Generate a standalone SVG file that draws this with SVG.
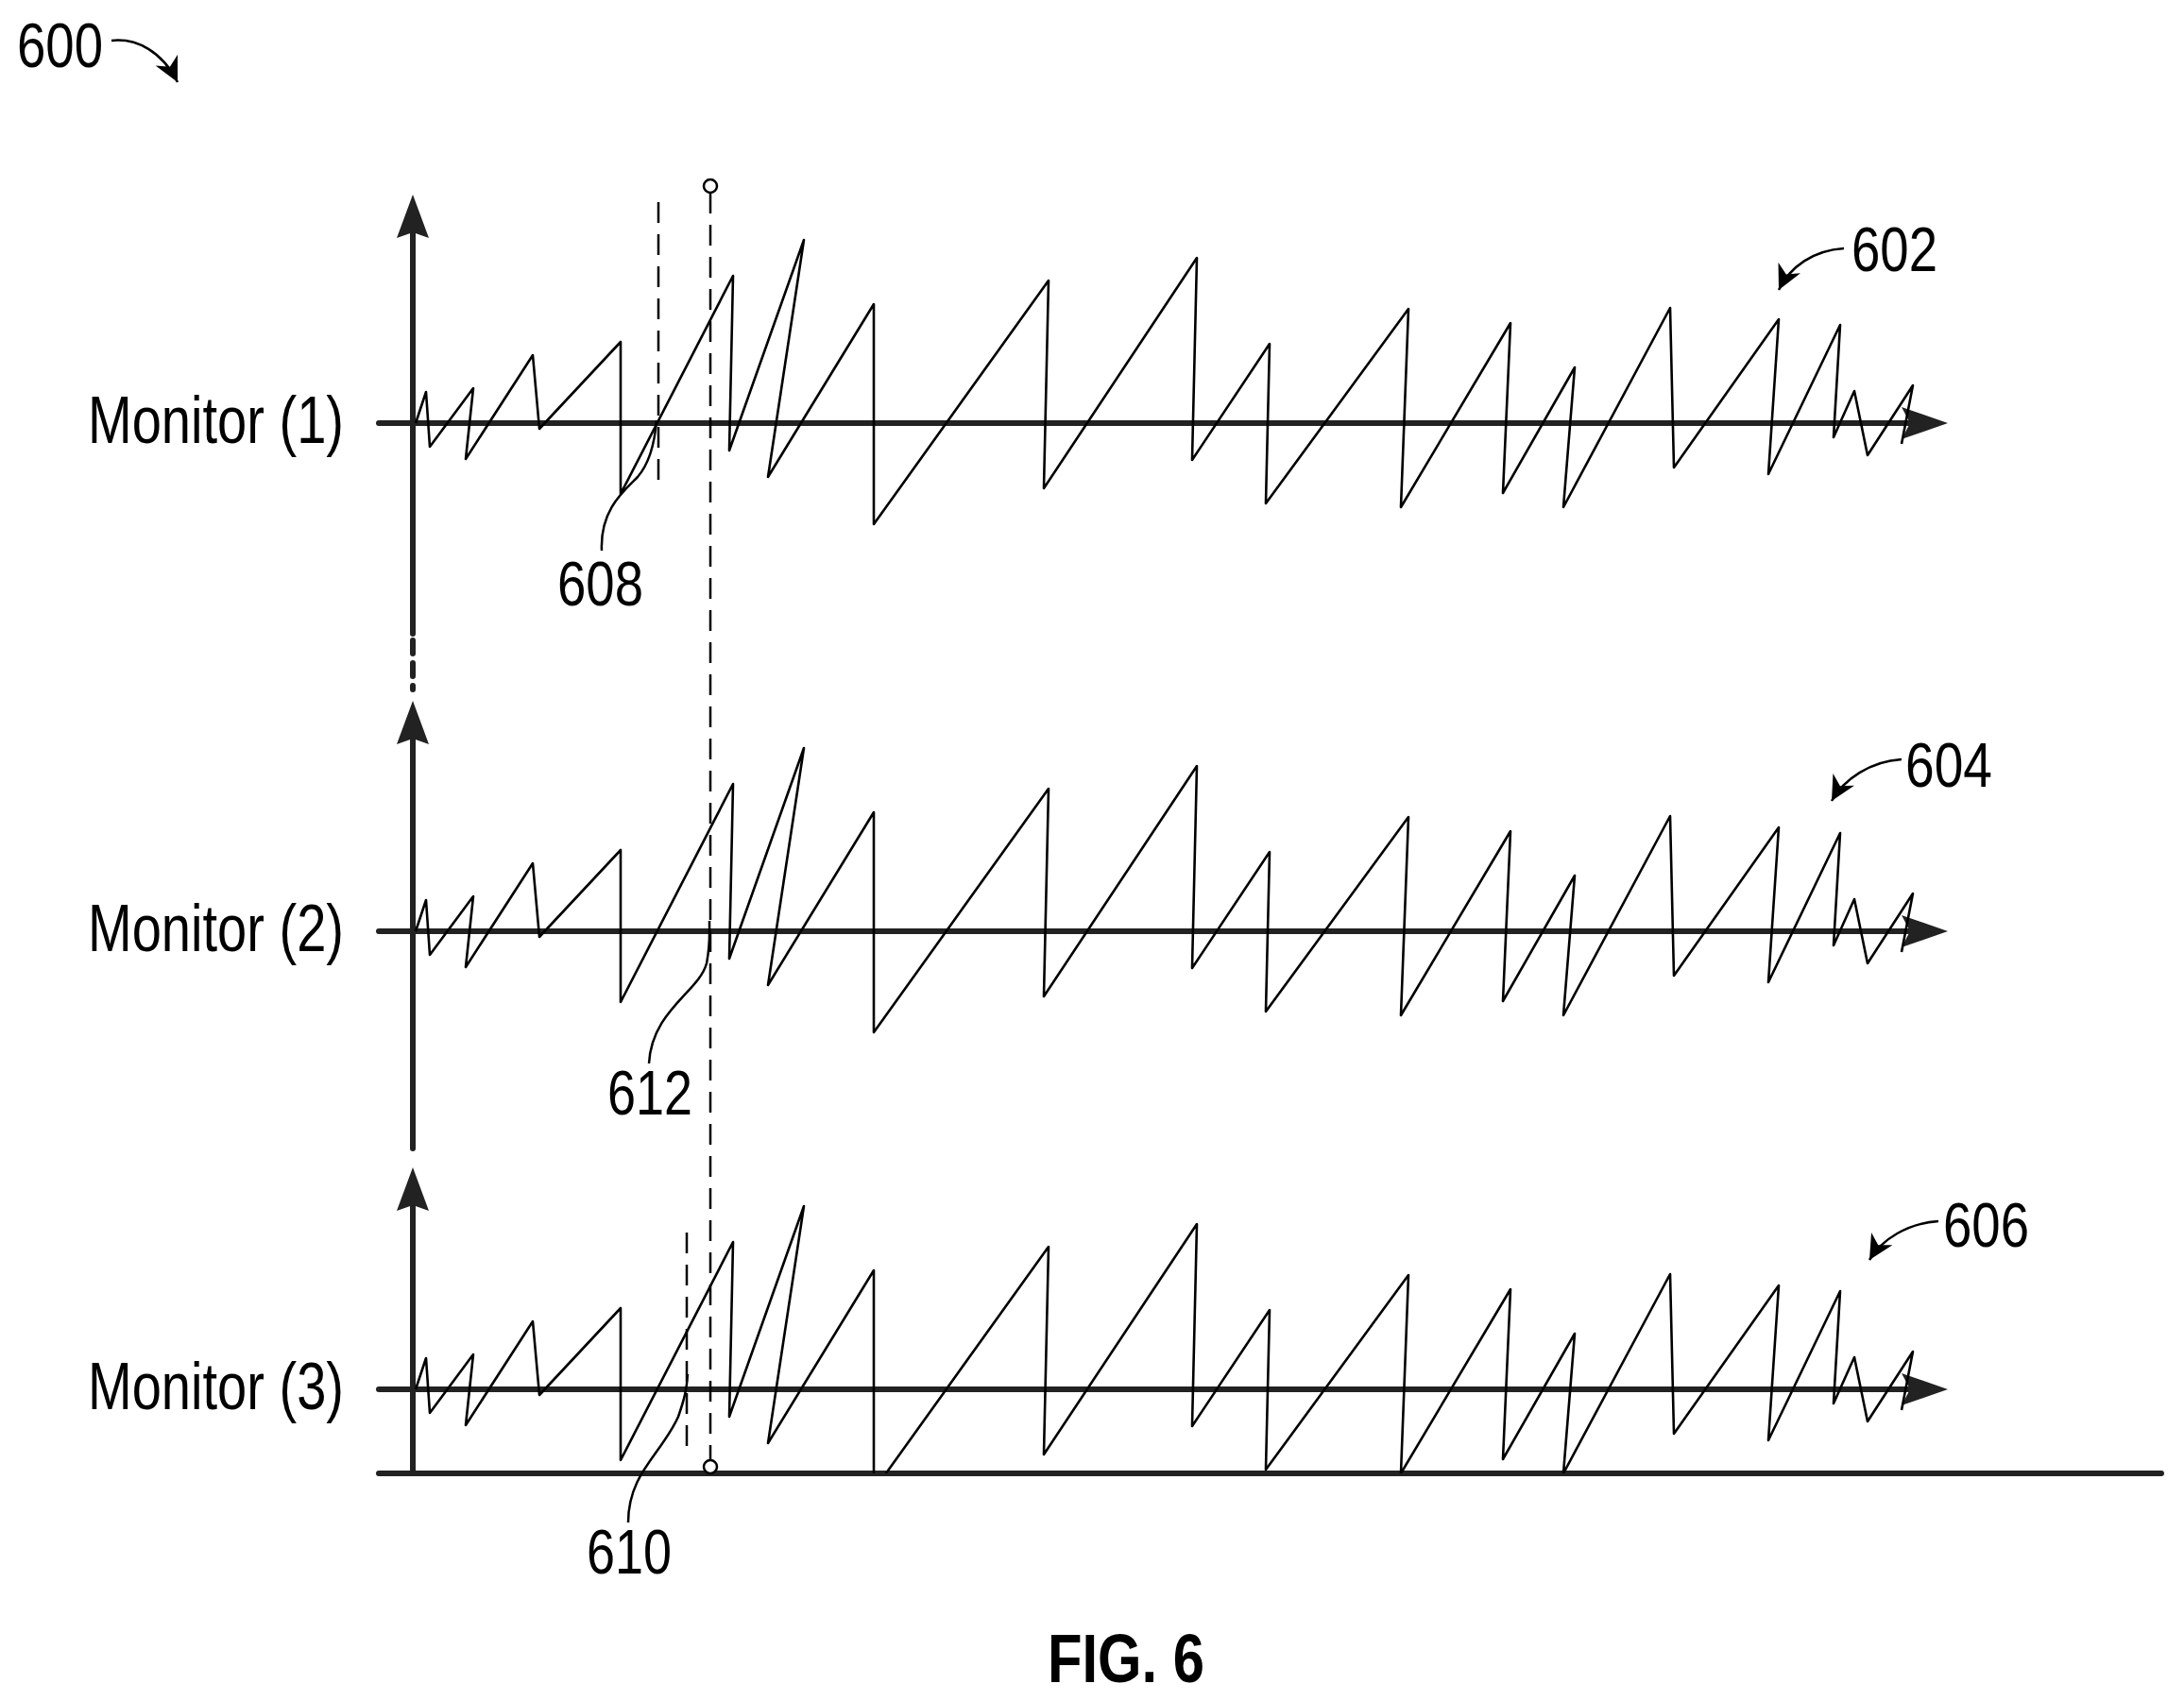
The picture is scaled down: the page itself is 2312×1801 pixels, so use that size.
<svg xmlns="http://www.w3.org/2000/svg" width="2312" height="1801" viewBox="0 0 2312 1801">
<style>
.ax{stroke:#222;stroke-width:6;fill:none;stroke-linecap:round}
.wv{stroke:#000;stroke-width:2.6;fill:none;stroke-linejoin:round}
.ds{stroke:#000;stroke-width:2.5;fill:none;stroke-dasharray:22 12}
.ld{stroke:#000;stroke-width:2.5;fill:none}
.t{font-family:"Liberation Sans",Arial,sans-serif;fill:#000}
</style>
<defs>
<marker id="ah" markerWidth="10" markerHeight="10" refX="9" refY="5" orient="auto" markerUnits="userSpaceOnUse" viewBox="0 0 10 10" style="overflow:visible"><path d="M-14,-8 L9,5 L-14,18 L-8,5 Z" fill="#222"/></marker>
<marker id="sm" viewBox="0 0 10 10" refX="10" refY="5" markerWidth="26" markerHeight="26" orient="auto" markerUnits="userSpaceOnUse"><path d="M0,0 L10,5 L0,10 L3,5 Z" fill="#000"/></marker>
<path id="wave" d="M440,448 L451,415 L455,473 L501,411 L493,486 L564,376 L571,454 L657,362 L657,523 L776,292 L772,477 L851,254 L813,505 L925,322 L925,555 L1110,297 L1105,517 L1267,273 L1262,487 L1344,364 L1340,533 L1491,327 L1483,537 L1599,342 L1591,522 L1667,389 L1655,537 L1768,326 L1772,495 L1883,338 L1872,502 L1948,344 L1941,463 L1963,414 L1977,482 L2025,408 L2013,470"/>
<clipPath id="c3"><rect x="0" y="0" width="2312" height="1560"/></clipPath>
<path id="vh" d="M437,0 l-17,0 l17,-50 l17,50 z"/>
</defs>
<g id="axes">
<line class="ax" x1="437" y1="240" x2="437" y2="671"/>
<line class="ax" x1="437" y1="678" x2="437" y2="730" stroke-dasharray="14 10"/>
<line class="ax" x1="437" y1="775" x2="437" y2="1216"/>
<line class="ax" x1="437" y1="1270" x2="437" y2="1560"/>
<path d="M437,206 L420,252 L437,246 L454,252 Z" fill="#222"/>
<path d="M437,742 L420,788 L437,782 L454,788 Z" fill="#222"/>
<path d="M437,1236 L420,1282 L437,1276 L454,1282 Z" fill="#222"/>
<line class="ax" x1="401" y1="448" x2="2030" y2="448"/>
<line class="ax" x1="401" y1="986" x2="2030" y2="986"/>
<line class="ax" x1="401" y1="1471" x2="2030" y2="1471"/>
<path d="M2062,448 L2013,431 L2022,448 L2013,465 Z" fill="#222"/>
<path d="M2062,986 L2013,969 L2022,986 L2013,1003 Z" fill="#222"/>
<path d="M2062,1471 L2013,1454 L2022,1471 L2013,1488 Z" fill="#222"/>
<line class="ax" x1="401" y1="1560" x2="2288" y2="1560"/>
</g>
<g id="signal-602"><use href="#wave" class="wv"/></g>
<g id="signal-604"><use href="#wave" class="wv" transform="translate(0,538)"/></g>
<g id="signal-606" clip-path="url(#c3)"><use href="#wave" class="wv" transform="translate(0,1023)"/></g>
<g id="markers">
<line class="ds" x1="697" y1="214" x2="697" y2="516"/>
<line class="ds" x1="752" y1="204" x2="752" y2="1545"/>
<circle cx="752" cy="197" r="7" fill="#fff" stroke="#000" stroke-width="2.5"/>
<circle cx="752" cy="1553" r="7" fill="#fff" stroke="#000" stroke-width="2.5"/>
<line class="ds" x1="727" y1="1305" x2="727" y2="1533"/>
</g>
<g id="labels">
<text class="t" x="93" y="469" font-size="70" textLength="271" lengthAdjust="spacingAndGlyphs">Monitor (1)</text>
<text class="t" x="93" y="1007" font-size="70" textLength="271" lengthAdjust="spacingAndGlyphs">Monitor (2)</text>
<text class="t" x="93" y="1492" font-size="70" textLength="271" lengthAdjust="spacingAndGlyphs">Monitor (3)</text>
<text class="t" x="18" y="71" font-size="66" textLength="91" lengthAdjust="spacingAndGlyphs">600</text>
<text class="t" x="590" y="641" font-size="66" textLength="91" lengthAdjust="spacingAndGlyphs">608</text>
<text class="t" x="643" y="1180" font-size="66" textLength="90" lengthAdjust="spacingAndGlyphs">612</text>
<text class="t" x="621" y="1666" font-size="66" textLength="90" lengthAdjust="spacingAndGlyphs">610</text>
<text class="t" x="1960" y="287" font-size="66" textLength="91" lengthAdjust="spacingAndGlyphs">602</text>
<text class="t" x="2017" y="833" font-size="66" textLength="92" lengthAdjust="spacingAndGlyphs">604</text>
<text class="t" x="2057" y="1320" font-size="66" textLength="91" lengthAdjust="spacingAndGlyphs">606</text>
<text class="t" x="1109" y="1781" font-size="72" font-weight="bold" textLength="166" lengthAdjust="spacingAndGlyphs">FIG. 6</text>
</g>
<g id="connectors">
<path class="ld" d="M637,583 C635,540 660,520 675,505 C688,490 693,470 695,445"/>
<path class="ld" d="M687,1126 C690,1070 740,1050 748,1020 C752,1000 751,990 751,975"/>
<path class="ld" d="M665,1612 C665,1560 700,1540 718,1500 C725,1480 727,1470 728,1455"/>
<path class="ld" d="M118,43 C145,40 172,55 188,87" marker-end="url(#sm)"/>
<path class="ld" d="M1952,263 C1920,265 1895,282 1883,307" marker-end="url(#sm)"/>
<path class="ld" d="M2013,804 C1980,806 1952,825 1939,848" marker-end="url(#sm)"/>
<path class="ld" d="M2052,1293 C2020,1295 1992,1312 1979,1334" marker-end="url(#sm)"/>
</g>
</svg>
